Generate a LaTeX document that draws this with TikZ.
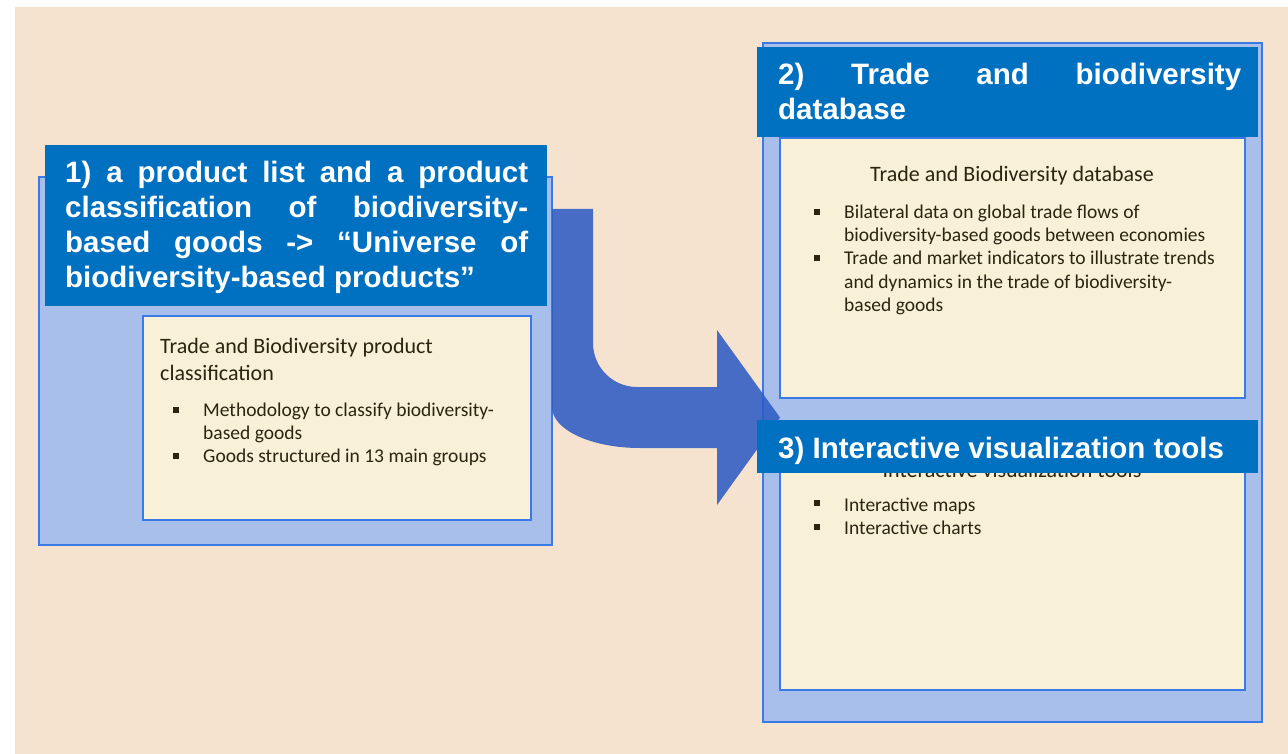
\documentclass[tikz,border=0pt]{standalone}
\usepackage{fontspec}
\newfontfamily\titlefont{Liberation Sans}
\newfontfamily\bodyfont{Carlito}
\definecolor{beige}{HTML}{F5E2CF}
\definecolor{outerfill}{HTML}{A8BFEB}
\definecolor{boxline}{HTML}{3A7AE6}
\definecolor{yellowfill}{HTML}{F8F1D7}
\definecolor{titleblue}{HTML}{0070C0}
\definecolor{arrowblue}{HTML}{2E5CC4}
\definecolor{bodytext}{HTML}{2B2410}
\tikzset{
  outerbox/.style={draw=boxline, fill=outerfill, line width=2pt},
  yellowbox/.style={draw=boxline, fill=yellowfill, line width=2pt},
  titlebox/.style={fill=titleblue},
  titletext/.style={inner sep=0pt, anchor=base west, text width=463pt, align=justify, text=white,
    font=\titlefont\bfseries\fontsize{29.5}{34.7}\selectfont},
  headtext/.style={inner sep=0pt, text=bodytext, font=\bodyfont\fontsize{22}{27}\selectfont},
  itemtext/.style={inner sep=0pt, anchor=base west, text=bodytext, font=\bodyfont\fontsize{19.5}{23}\selectfont},
  bulletsq/.style={fill=bodytext, minimum size=6pt, inner sep=0pt},
  bentarrow/.style={fill=arrowblue, fill opacity=0.88},
}
\begin{document}
\begin{tikzpicture}[x=1pt,y=-1pt]
\useasboundingbox (0,0) rectangle (1288,754);
\fill[white] (0,0) rectangle (1288,754);
\fill[beige] (15,7) rectangle (1288,754);

% ---- block 1 ----
\draw[outerbox] (39,177) rectangle (552,545);
\draw[yellowbox] (143,316) rectangle (531,520);
\node[headtext, anchor=base west] (h1a) at (160,353) {Trade and Biodiversity product};
\node[headtext, anchor=base west] (h1b) at (160,380) {classification};
\node[bulletsq] (b1a) at (176,410) {};
\node[itemtext] (i1a) at (203,416) {Methodology to classify biodiversity-};
\node[itemtext] (i1b) at (203,439) {based goods};
\node[bulletsq] (b1b) at (176,456) {};
\node[itemtext] (i1c) at (203,462) {Goods structured in 13 main groups};
\fill[titlebox] (45,145) rectangle (547,306);
\node[titletext] (t1) at (65,183) {\hyphenpenalty=10000\relax 1) a product list and a product\linebreak classification of biodiversity-\linebreak based goods -> “Universe of\linebreak biodiversity-based products”};

% ---- block 2 and 3 ----
\draw[outerbox] (763,43) rectangle (1262,722);
\draw[yellowbox] (780,138) rectangle (1245,398);
\draw[yellowbox] (780,425) rectangle (1245,690);
\node[headtext, anchor=base] (h2) at (1012,182) {Trade and Biodiversity database};
\node[bulletsq] (b2a) at (816.5,212) {};
\node[itemtext] (i2a) at (844,219) {Bilateral data on global trade flows of};
\node[itemtext] (i2b) at (844,242) {biodiversity-based goods between economies};
\node[bulletsq] (b2b) at (816.5,258) {};
\node[itemtext] (i2c) at (844,265) {Trade and market indicators to illustrate trends};
\node[itemtext] (i2d) at (844,288) {and dynamics in the trade of biodiversity-};
\node[itemtext] (i2e) at (844,311) {based goods};
\node[headtext, anchor=base] (h3) at (1012,477) {Interactive visualization tools};
\node[bulletsq] (b3a) at (816.5,503) {};
\node[itemtext] (i3a) at (844,511) {Interactive maps};
\node[bulletsq] (b3b) at (816.5,527) {};
\node[itemtext] (i3b) at (844,534) {Interactive charts};
\fill[titlebox] (757,47) rectangle (1258,137);
\node[titletext] (t2) at (778,85) {\hyphenpenalty=10000\relax 2) Trade and biodiversity\linebreak database};

% ---- bent arrow ----
\fill[bentarrow] (552,209) -- (593,209) -- (593,343)
  .. controls (593,367.3) and (612.7,387) .. (637,387)
  -- (717,387) -- (717,330) -- (780,417.5) -- (717,505) -- (717,448) -- (640,448)
  .. controls (590.8,448) and (552,429.6) .. (552,407) -- cycle;

\fill[titlebox] (757,420) rectangle (1258,473);
\node[titletext] (t3) at (778,458) {3) Interactive visualization tools};
\end{tikzpicture}
\end{document}
